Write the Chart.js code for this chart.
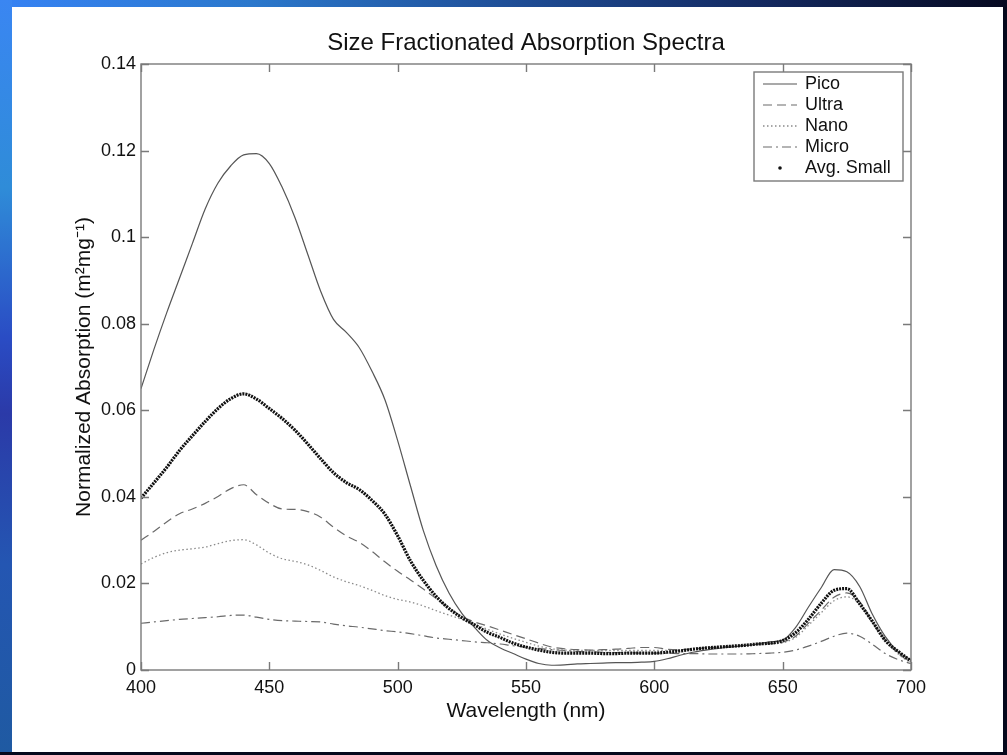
<!DOCTYPE html>
<html>
<head>
<meta charset="utf-8">
<title>Size Fractionated Absorption Spectra</title>
<script src="https://cdn.jsdelivr.net/npm/chart.js@4.4.1/dist/chart.umd.min.js"></script>
<style>
  html, body { margin: 0; padding: 0; }
  body { width: 1007px; height: 755px; position: relative; overflow: hidden; background: #05081c; }
  .top-band { position: absolute; left: 0; top: 0; width: 1007px; height: 7px;
    background: linear-gradient(to right, #3682f4 0%, #2b78cc 25%, #1f4f98 50%, #142a62 75%, #060920 100%); }
  .left-band { position: absolute; left: 0; top: 0; width: 12px; height: 752px;
    background: linear-gradient(to bottom, #3a86f2 0%, #2f8cd8 25%, #2a4cc4 45%, #2b3aa8 55%, #2456b2 75%, #1f5aa2 100%); }
  .panel { position: absolute; left: 12px; top: 7px; width: 991px; height: 745px; background: #fff; }
  #wrap { position: absolute; left: 0; top: 0; width: 1007px; height: 755px; }
</style>
</head>
<body>
<div class="top-band"></div>
<div class="left-band"></div>
<div class="panel"></div>
<div id="wrap"><canvas id="spectraChart"></canvas></div>
<script>
const chartTitle = "Size Fractionated Absorption Spectra";
const xTitle = "Wavelength (nm)";
const yTitle = "Normalized Absorption (m\u00B2mg\u207B\u00B9)";

const xTickLabels = ["400", "450", "500", "550", "600", "650", "700"];
const yTickLabels = ["0", "0.02", "0.04", "0.06", "0.08", "0.1", "0.12", "0.14"];

const wavelengths = [400, 405, 410, 415, 420, 425, 430, 435, 440, 445,
    450, 455, 460, 465, 470, 475, 480, 485, 490, 495,
    500, 505, 510, 515, 520, 525, 530, 535, 540, 545,
    550, 555, 560, 565, 570, 575, 580, 585, 590, 595,
    600, 605, 610, 615, 620, 625, 630, 635, 640, 645,
    650, 655, 660, 665, 670, 675, 680, 685, 690, 695, 700];

const pico = [0.065, 0.074, 0.0825, 0.0905, 0.0985, 0.1065, 0.1125, 0.1165, 0.119, 0.1193,
    0.117, 0.1115, 0.1045, 0.096, 0.0875, 0.081, 0.078, 0.0745, 0.069, 0.0625,
    0.053, 0.0425, 0.0322, 0.0241, 0.0178, 0.0131, 0.0098, 0.0068, 0.0051, 0.0038,
    0.0025, 0.0015, 0.0011, 0.0012, 0.0014, 0.0015, 0.0016, 0.0017, 0.0017, 0.0018,
    0.002, 0.0026, 0.0034, 0.0041, 0.0046, 0.005, 0.0053, 0.0056, 0.006, 0.0065,
    0.0069, 0.0098, 0.0145, 0.019, 0.0232, 0.0227, 0.0193, 0.0128, 0.0077, 0.0042, 0.0023];

const ultra = [0.030, 0.032, 0.0342, 0.0361, 0.0372, 0.0385, 0.0401, 0.0419, 0.0428, 0.0405,
    0.0385, 0.0372, 0.0371, 0.0366, 0.0353, 0.033, 0.031, 0.0295, 0.0274, 0.025,
    0.0228, 0.0208, 0.0187, 0.0165, 0.0143, 0.0124, 0.0111, 0.0102, 0.0092, 0.0082,
    0.0072, 0.0062, 0.0053, 0.0049, 0.0047, 0.0046, 0.0047, 0.0048, 0.005, 0.0052,
    0.0052, 0.0048, 0.0047, 0.0049, 0.0051, 0.0053, 0.0055, 0.0057, 0.0059, 0.0061,
    0.0064, 0.0078, 0.0108, 0.0138, 0.0168, 0.0178, 0.0158, 0.011, 0.007, 0.0038, 0.0017];

const nano = [0.0245, 0.026, 0.0271, 0.0277, 0.028, 0.0284, 0.0292, 0.0299, 0.0301, 0.0289,
    0.027, 0.0257, 0.0251, 0.0243, 0.023, 0.0215, 0.0204, 0.0195, 0.0184, 0.0172,
    0.0163, 0.0157, 0.0148, 0.0137, 0.0127, 0.0117, 0.0106, 0.0094, 0.0083, 0.0073,
    0.0064, 0.0055, 0.0049, 0.0046, 0.0045, 0.0045, 0.0045, 0.0045, 0.0045, 0.0045,
    0.0045, 0.0045, 0.0046, 0.0048, 0.005, 0.0052, 0.0054, 0.0056, 0.0058, 0.006,
    0.0063, 0.0075, 0.0103, 0.0132, 0.016, 0.0169, 0.0152, 0.0108, 0.0068, 0.0037, 0.0016];

const micro = [0.0108, 0.0111, 0.0114, 0.0117, 0.0119, 0.0121, 0.0123, 0.0126, 0.0127, 0.0122,
    0.0117, 0.0114, 0.0113, 0.0112, 0.0111, 0.0106, 0.0102, 0.0099, 0.0095, 0.0091,
    0.0088, 0.0084, 0.0079, 0.0074, 0.0071, 0.0068, 0.0065, 0.0063, 0.006, 0.0056,
    0.0053, 0.005, 0.0047, 0.0045, 0.0043, 0.0042, 0.0041, 0.004, 0.004, 0.0039,
    0.0039, 0.0039, 0.0038, 0.0038, 0.0037, 0.0037, 0.0037, 0.0037, 0.0038, 0.0039,
    0.0041, 0.0046, 0.0055, 0.0066, 0.0078, 0.0085, 0.0078, 0.0059, 0.0038, 0.0024, 0.0015];

const avgSmall = [0.0397, 0.0432, 0.0468, 0.0507, 0.0541, 0.0574, 0.0604, 0.0627, 0.0638, 0.0626,
    0.0604, 0.0581, 0.0554, 0.0522, 0.0488, 0.0456, 0.0433, 0.0417, 0.0392, 0.036,
    0.031, 0.0252, 0.0207, 0.017, 0.0142, 0.0121, 0.0104, 0.0087, 0.0075, 0.0062,
    0.0053, 0.0046, 0.0041, 0.0039, 0.0039, 0.0039, 0.0038, 0.0038, 0.0039, 0.0039,
    0.0039, 0.0041, 0.0044, 0.0048, 0.0051, 0.0053, 0.0055, 0.0057, 0.006, 0.0062,
    0.0068, 0.0086, 0.0117, 0.0154, 0.0184, 0.0188, 0.0153, 0.0112, 0.0068, 0.0043, 0.0021];

function toPoints(values) {
    return wavelengths.map(function (w, i) { return { x: w, y: values[i] }; });
}

Chart.defaults.font.family = "'Liberation Sans', Arial, Helvetica, sans-serif";
Chart.defaults.color = "#111";

// title centred over the plot box (not over the whole canvas)
const titlePlugin = {
    id: "titlePlugin",
    afterDraw: function (chart) {
        const ctx = chart.ctx;
        const a = chart.chartArea;
        ctx.save();
        ctx.font = "24px 'Liberation Sans', Arial, sans-serif";
        ctx.fillStyle = "#111";
        ctx.textAlign = "center";
        ctx.textBaseline = "middle";
        ctx.fillText(chartTitle, (a.left + a.right) / 2, a.top - 21);
        ctx.restore();
    }
};

// matlab style frame with inward ticks on all four sides
const boxPlugin = {
    id: "boxPlugin",
    afterDatasetsDraw: function (chart) {
        const ctx = chart.ctx;
        const a = chart.chartArea;
        const x = chart.scales.x, y = chart.scales.y;
        ctx.save();
        ctx.strokeStyle = "#7a7a7a";
        ctx.lineWidth = 1.4;
        ctx.strokeRect(a.left, a.top, a.right - a.left, a.bottom - a.top);
        ctx.beginPath();
        x.ticks.forEach(function (t) {
            const px = Math.round(x.getPixelForValue(t.value)) + 0.5;
            ctx.moveTo(px, a.bottom); ctx.lineTo(px, a.bottom - 8);
            ctx.moveTo(px, a.top); ctx.lineTo(px, a.top + 8);
        });
        y.ticks.forEach(function (t) {
            const py = Math.round(y.getPixelForValue(t.value)) + 0.5;
            ctx.moveTo(a.left, py); ctx.lineTo(a.left + 8, py);
            ctx.moveTo(a.right, py); ctx.lineTo(a.right - 8, py);
        });
        ctx.stroke();
        ctx.restore();
    }
};

// boxed legend in the upper right corner of the plot
const legendPlugin = {
    id: "legendPlugin",
    afterDraw: function (chart) {
        const ctx = chart.ctx;
        const a = chart.chartArea;
        const w = 149, rowH = 21;
        const sets = chart.data.datasets;
        const h = sets.length * rowH + 4;
        const bx = a.right - 8 - w, by = a.top + 8;
        ctx.save();
        ctx.fillStyle = "#fff";
        ctx.fillRect(bx, by, w, h);
        ctx.strokeStyle = "#7a7a7a";
        ctx.lineWidth = 1.4;
        ctx.strokeRect(bx, by, w, h);
        ctx.font = "18px 'Liberation Sans', Arial, sans-serif";
        ctx.textBaseline = "middle";
        sets.forEach(function (ds, i) {
            const cy = by + 12 + i * rowH;
            if (ds.legendDot) {
                ctx.fillStyle = ds.borderColor;
                ctx.beginPath();
                ctx.arc(bx + 26, cy, 1.8, 0, Math.PI * 2);
                ctx.fill();
            } else {
                ctx.strokeStyle = ds.borderColor;
                ctx.lineWidth = ds.borderWidth;
                ctx.setLineDash(ds.borderDash || []);
                ctx.beginPath();
                ctx.moveTo(bx + 9, cy);
                ctx.lineTo(bx + 43, cy);
                ctx.stroke();
                ctx.setLineDash([]);
            }
            ctx.fillStyle = "#111";
            ctx.fillText(ds.label, bx + 51, cy);
        });
        ctx.restore();
    }
};

let ctx = document.getElementById("spectraChart").getContext("2d");

new Chart(ctx, {
    type: "line",
    data: {
        datasets: [
            { label: "Pico", data: toPoints(pico), borderColor: "#555", borderWidth: 1.2, order: 1 },
            { label: "Ultra", data: toPoints(ultra), borderColor: "#6a6a6a", borderWidth: 1.2, borderDash: [9, 5], order: 2 },
            { label: "Nano", data: toPoints(nano), borderColor: "#8a8a8a", borderWidth: 1.3, borderDash: [1.5, 2.5], order: 3 },
            { label: "Micro", data: toPoints(micro), borderColor: "#6a6a6a", borderWidth: 1.2, borderDash: [9, 4, 2, 4], order: 4 },
            { label: "Avg. Small", data: toPoints(avgSmall), borderColor: "#111", borderWidth: 3.2, borderDash: [2, 1], order: 0, legendDot: true }
        ]
    },
    options: {
        responsive: true,
        maintainAspectRatio: false,
        animation: false,
        layout: { padding: { left: 72, right: 96, top: 64, bottom: 31 } },
        elements: {
            point: { radius: 0 },
            line: { cubicInterpolationMode: "monotone", fill: false }
        },
        plugins: {
            legend: { display: false },
            tooltip: { enabled: false },
            title: { display: false }
        },
        scales: {
            x: {
                type: "linear",
                min: 400,
                max: 700,
                grid: { display: false, drawTicks: false },
                border: { display: false },
                ticks: {
                    stepSize: 50,
                    padding: 7,
                    maxRotation: 0,
                    color: "#111",
                    font: { size: 18 },
                    callback: function (v, i) { return xTickLabels[i]; }
                },
                title: { display: true, text: xTitle, color: "#111", font: { size: 21 }, padding: 0 },
                afterFit: function (s) { s.height = 54; }
            },
            y: {
                type: "linear",
                min: 0,
                max: 0.14,
                grid: { display: false, drawTicks: false },
                border: { display: false },
                ticks: {
                    stepSize: 0.02,
                    padding: 5,
                    color: "#111",
                    font: { size: 18 },
                    callback: function (v, i) { return yTickLabels[i]; }
                },
                title: { display: true, text: yTitle, color: "#111", font: { size: 21 }, padding: 0 },
                afterFit: function (s) { s.width = 69; }
            }
        }
    },
    plugins: [boxPlugin, legendPlugin, titlePlugin]
});
</script>
</body>
</html>
